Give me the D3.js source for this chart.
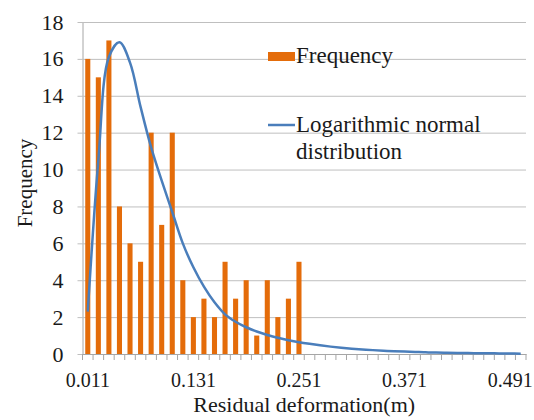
<!DOCTYPE html>
<html>
<head>
<meta charset="utf-8">
<script src="https://cdn.jsdelivr.net/npm/d3@7"></script>
<style>
  body { margin: 0; background: #fff; }
  svg text { font-family: "Liberation Serif", "Times New Roman", "DejaVu Serif", serif; }
</style>
</head>
<body>
<div id="wrapper"></div>
<script>
// categories: residual deformation class (m), step 0.012
const categories = ['0.011','0.023','0.035','0.047','0.059','0.071','0.083','0.095','0.107','0.119',
  '0.131','0.143','0.155','0.167','0.179','0.191','0.203','0.215','0.227','0.239',
  '0.251','0.263','0.275','0.287','0.299','0.311','0.323','0.335','0.347','0.359',
  '0.371','0.383','0.395','0.407','0.419','0.431','0.443','0.455','0.467','0.479',
  '0.491','0.503']

const frequency = [16, 15, 17, 8, 6, 5, 12, 7, 12, 4, 2, 3, 2, 5, 3, 4, 1, 4, 2, 3, 5]

const lognormal = [2.3, 10.5, 16.1, 16.9, 15.8, 13.4, 11.2, 9.4, 7.7, 6.0,
  4.7, 3.65, 2.8, 2.15, 1.75, 1.45, 1.22, 1.03, 0.88, 0.75,
  0.64, 0.55, 0.47, 0.4, 0.34, 0.29, 0.25, 0.21, 0.18, 0.15,
  0.13, 0.11, 0.09, 0.08, 0.07, 0.06, 0.05, 0.04, 0.04, 0.03,
  0.03, 0.02]

const xTickLabels = ['0.011', '0.131', '0.251', '0.371', '0.491']
const yTicks = [0, 2, 4, 6, 8, 10, 12, 14, 16, 18]

const dimensions = {
  width: 534,
  height: 420,
  margins: { top: 22, right: 8, bottom: 66, left: 82.5 }
}
dimensions.boundedWidth = dimensions.width - dimensions.margins.left - dimensions.margins.right
dimensions.boundedHeight = dimensions.height - dimensions.margins.top - dimensions.margins.bottom

const wrapper = d3.select('#wrapper').append('svg')
  .attr('width', dimensions.width)
  .attr('height', dimensions.height)

const bounds = wrapper.append('g')
  .attr('transform', `translate(${dimensions.margins.left},${dimensions.margins.top})`)

// scales
const xScale = d3.scaleBand()
  .domain(categories)
  .range([0, dimensions.boundedWidth])

const barScale = d3.scaleBand()
  .domain(categories)
  .range([0, dimensions.boundedWidth])
  .paddingInner(0.52)
  .paddingOuter(0.26)

const yScale = d3.scaleLinear()
  .domain([0, 18])
  .range([dimensions.boundedHeight, 0])

// grid + y axis
const yAxisGenerator = d3.axisLeft(yScale)
  .tickValues(yTicks)
  .tickSize(-dimensions.boundedWidth)
  .tickSizeOuter(0)
  .tickPadding(19)

const yAxis = bounds.append('g').call(yAxisGenerator)
yAxis.select('.domain').attr('stroke', '#a6a6a6')
yAxis.selectAll('.tick line').attr('stroke', '#bfbfbf').attr('x1', -5)
yAxis.selectAll('.tick text')
  .attr('fill', '#1a1a1a')
  .style('font-size', '22px')

// bars
bounds.append('g').selectAll('rect')
  .data(frequency)
  .enter().append('rect')
  .attr('x', (d, i) => barScale(categories[i]))
  .attr('width', barScale.bandwidth())
  .attr('y', d => yScale(d))
  .attr('height', d => yScale(0) - yScale(d))
  .attr('fill', '#e46c0a')

// x axis
const xAxisGenerator = d3.axisBottom(xScale)
  .tickValues([])
  .tickSizeOuter(0)

const xAxis = bounds.append('g')
  .attr('transform', `translate(0,${dimensions.boundedHeight})`)
  .call(xAxisGenerator)
xAxis.select('.domain').attr('stroke', '#a6a6a6')

// category boundary ticks
xAxis.selectAll('.boundary')
  .data(categories.concat(['end']))
  .enter().append('line')
  .attr('class', 'boundary')
  .attr('x1', (d, i) => i * xScale.step())
  .attr('x2', (d, i) => i * xScale.step())
  .attr('y1', 0)
  .attr('y2', 6)
  .attr('stroke', '#a6a6a6')

xAxis.selectAll('.xlabel')
  .data(xTickLabels)
  .enter().append('text')
  .attr('class', 'xlabel')
  .attr('x', d => xScale(d) + xScale.bandwidth() / 2)
  .attr('y', 33)
  .attr('text-anchor', 'middle')
  .attr('fill', '#1a1a1a')
  .style('font-size', '20px')
  .text(d => d)

// lognormal curve
const lineGenerator = d3.line()
  .x((d, i) => xScale(categories[i]) + xScale.bandwidth() / 2)
  .y(d => yScale(d))
  .curve(d3.curveCatmullRom.alpha(0.5))

bounds.append('path')
  .datum(lognormal)
  .attr('d', lineGenerator)
  .attr('fill', 'none')
  .attr('stroke', '#4a7ebb')
  .attr('stroke-width', 2.5)

// axis titles
bounds.append('text')
  .attr('x', dimensions.boundedWidth / 2)
  .attr('y', dimensions.boundedHeight + 58)
  .attr('text-anchor', 'middle')
  .attr('fill', '#1a1a1a')
  .style('font-size', '22px')
  .text('Residual deformation(m)')

bounds.append('text')
  .attr('transform', `translate(${-51},${161}) rotate(-90)`)
  .attr('text-anchor', 'middle')
  .attr('fill', '#1a1a1a')
  .style('font-size', '21px')
  .text('Frequency')

// legend
const legend = wrapper.append('g')
legend.append('rect')
  .attr('x', 268).attr('y', 52)
  .attr('width', 27).attr('height', 9)
  .attr('fill', '#e46c0a')
legend.append('text')
  .attr('x', 296).attr('y', 63)
  .attr('fill', '#1a1a1a')
  .style('font-size', '23px')
  .text('Frequency')

legend.append('line')
  .attr('x1', 268).attr('x2', 295)
  .attr('y1', 125).attr('y2', 125)
  .attr('stroke', '#4a7ebb')
  .attr('stroke-width', 2.5)
legend.append('text')
  .attr('x', 296).attr('y', 132)
  .attr('fill', '#1a1a1a')
  .style('font-size', '23px')
  .text('Logarithmic normal')
legend.append('text')
  .attr('x', 296).attr('y', 159)
  .attr('fill', '#1a1a1a')
  .style('font-size', '23px')
  .text('distribution')
</script>
</body>
</html>
